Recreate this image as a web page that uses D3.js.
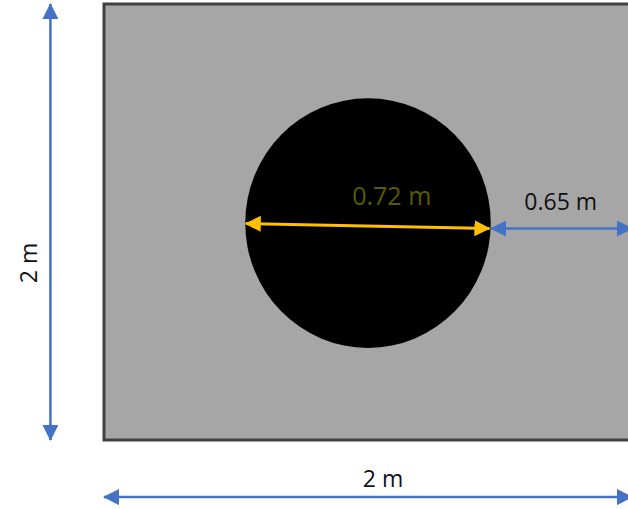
<!DOCTYPE html>
<html lang="en">
<head>
<meta charset="UTF-8">
<script src="https://d3js.org/d3.v7.min.js"></script>
<style>
html, body { margin: 0; padding: 0; background: #fff; }
svg { display: block; }
text { font-family: "Open Sans", "Noto Sans", sans-serif; }
</style>
</head>
<body>
<div id="chart"></div>
<script>
// the drawing is a schematic, so these are in drawn metres and not to scale
const plateSize = [2, 2];
const holeCentre = [1, 1.005];
const holeDiameter = [0.93, 1.145];

// one entry per dimension arrow
const arrowNames = ["height", "width", "gap", "hole"];
const arrowX1 = [-0.203, 0, 1.466, 0.537];
const arrowY1 = [2, 2.262, 1.03, 1.007];
const arrowX2 = [-0.203, 2, 2, 1.46];
const arrowY2 = [0, 2.262, 1.03, 1.03];
const arrowColors = ["#4472c4", "#4472c4", "#4472c4", "#ffc000"];

const labelTexts = ["2 m", "2 m", "0.65 m", "0.72 m"];
const labelX = [-0.254, 1.057, 1.73, 1.09];
const labelY = [1.188, 2.216, 0.945, 0.922];

const width = 628, height = 509;

const x = d3.scaleLinear().domain([0, 2]).range([104, 632]);
const y = d3.scaleLinear().domain([0, 2]).range([4, 440]);

const svg = d3.select("#chart").append("svg")
  .attr("width", width)
  .attr("height", height);

// plate
svg.append("rect")
  .attr("x", x(0))
  .attr("y", y(0))
  .attr("width", x(plateSize[0]) - x(0) + 10)
  .attr("height", y(plateSize[1]) - y(0))
  .attr("fill", "#a6a6a6")
  .attr("stroke", "#404040")
  .attr("stroke-width", 3);

// hole
svg.append("ellipse")
  .attr("cx", x(holeCentre[0]))
  .attr("cy", y(holeCentre[1]))
  .attr("rx", (x(holeDiameter[0]) - x(0)) / 2)
  .attr("ry", (y(holeDiameter[1]) - y(0)) / 2)
  .attr("fill", "#000");

// arrow heads
const defs = svg.append("defs");
["#4472c4", "#ffc000"].forEach((c, i) => {
  const m = defs.append("marker")
    .attr("id", "head" + i)
    .attr("viewBox", "0 0 16 16")
    .attr("refX", 15)
    .attr("refY", 8)
    .attr("markerWidth", 16)
    .attr("markerHeight", 16)
    .attr("markerUnits", "userSpaceOnUse")
    .attr("orient", "auto-start-reverse");
  m.append("path")
    .attr("d", "M0,0L16,8L0,16Z")
    .attr("fill", c);
});

svg.selectAll("line.arrow")
  .data(arrowNames)
  .enter()
  .append("line")
  .attr("class", "arrow")
  .attr("x1", (d, i) => x(arrowX1[i]))
  .attr("y1", (d, i) => y(arrowY1[i]))
  .attr("x2", (d, i) => x(arrowX2[i]))
  .attr("y2", (d, i) => y(arrowY2[i]))
  .attr("stroke", (d, i) => arrowColors[i])
  .attr("stroke-width", (d, i) => d == "hole" ? 3 : 2.5)
  .attr("marker-start", (d, i) => `url(#head${d == "hole" ? 1 : 0})`)
  .attr("marker-end", (d, i) => `url(#head${d == "hole" ? 1 : 0})`);

// labels
svg.selectAll("text.label")
  .data(labelTexts)
  .enter()
  .append("text")
  .attr("class", "label")
  .attr("text-anchor", "middle")
  .attr("transform", (d, i) => {
    const t = `translate(${x(labelX[i])},${y(labelY[i])})`;
    return i == 0 ? t + " rotate(-90)" : t;
  })
  .attr("font-size", (d, i) => i == 3 ? 25 : 23)
  .attr("fill", (d, i) => i == 3 ? "#5b5b00" : "#111")
  .text(d => d);
</script>
</body>
</html>
